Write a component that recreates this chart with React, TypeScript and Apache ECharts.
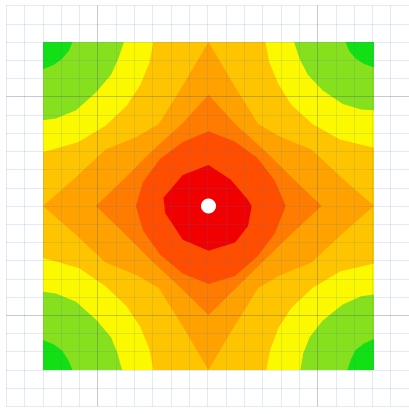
import React, { useEffect, useRef } from "react";
import * as echarts from "echarts";

// Contour band colours, from lowest (corners) to highest (centre)
const levelColors = [
  "#12df14", // 0 bright green
  "#86e01e", // 1 green
  "#fcf800", // 2 yellow
  "#ffc400", // 3 amber
  "#ffa200", // 4 orange
  "#ff7c00", // 5 dark orange
  "#ff4e00", // 6 red-orange
  "#f00000", // 7 red
];

// Contour band outlines in plot units (-9..9 on both axes)
const fullSquare = [[-9, -9], [9, -9], [9, 9], [-9, 9]];

const yellowTL = [[-9, 9], [-3, 9], [-3.2, 7.9], [-3.7, 6.65], [-4.45, 5.5], [-5.6, 4.4], [-7.1, 3.5], [-9, 2.95]];
const yellowTR = [[9, 9], [3.1, 9], [3.3, 7.9], [3.8, 6.7], [4.5, 5.55], [5.65, 4.5], [7.15, 3.65], [9, 3.2]];
const yellowBR = [[9, -9], [9, -3.15], [7.15, -3.6], [5.65, -4.5], [4.5, -5.6], [3.8, -6.7], [3.35, -7.9], [3.15, -9]];
const yellowBL = [[-9, -9], [-3, -9], [-3.2, -7.9], [-3.7, -6.65], [-4.45, -5.5], [-5.6, -4.4], [-7.05, -3.4], [-9, -2.85]];

const greenTL = [[-9, 9], [-4.6, 9], [-4.9, 8.1], [-5.3, 7.2], [-6.1, 6.25], [-7.2, 5.25], [-8.3, 4.8], [-9, 4.7]];
const greenTR = [[9, 9], [4.65, 9], [4.95, 8.1], [5.4, 7.2], [6.2, 6.35], [7.3, 5.6], [8.3, 5.3], [9, 5.25]];
const greenBR = [[9, -9], [9, -4.85], [8.3, -4.95], [7.3, -5.4], [6.2, -6.3], [5.5, -7.2], [5.15, -8.1], [5.0, -9]];
const greenBL = [[-9, -9], [-9, -4.7], [-8.3, -4.8], [-7.2, -5.25], [-6.1, -6.25], [-5.3, -7.2], [-4.95, -8.1], [-4.7, -9]];

const brightTL = [[-9, 9], [-7.4, 9], [-7.6, 8.5], [-7.95, 8.1], [-8.4, 7.75], [-9, 7.5]];
const brightTR = [[9, 9], [7.45, 9], [7.65, 8.5], [8.0, 8.1], [8.45, 7.8], [9, 7.6]];
const brightBR = [[9, -9], [9, -7.3], [8.45, -7.55], [8.0, -7.9], [7.75, -8.4], [7.55, -9]];
const brightBL = [[-9, -9], [-9, -7.35], [-8.4, -7.6], [-7.95, -7.95], [-7.6, -8.5], [-7.4, -9]];

const orangeStar = [
  [0, 9], [1.35, 6.7], [2.7, 4.5], [3.9, 3.8], [5.6, 3.1], [7.3, 1.5],
  [9, 0], [7.3, -1.5], [5.6, -3.1], [3.9, -3.8], [2.7, -4.5], [1.35, -6.7],
  [0, -9], [-1.35, -6.7], [-2.7, -4.5], [-3.9, -3.8], [-5.6, -3.1], [-7.3, -1.5],
  [-9, 0], [-7.3, 1.5], [-5.6, 3.1], [-3.9, 3.8], [-2.7, 4.5], [-1.35, 6.7],
];

const darkOrangeDiamond = [
  [0, 6.1], [1.45, 4.5], [3.05, 3.05], [4.55, 1.55], [6.15, 0], [4.55, -1.5],
  [3.0, -3.0], [1.5, -4.5], [0, -6.0], [-1.5, -4.5], [-3.05, -3.05], [-4.55, -1.54],
  [-6.12, 0], [-4.54, 1.54], [-3.05, 3.05], [-1.45, 4.5],
];

const redOrangeShape = [
  [0, 4.1], [1.4, 3.55], [2.65, 2.65], [3.6, 1.4], [4.2, 0], [3.62, -1.48],
  [2.69, -2.74], [1.44, -3.84], [0, -4.28], [-1.4, -3.7], [-2.65, -2.65], [-3.56, -1.35],
  [-3.95, 0], [-3.56, 1.32], [-2.64, 2.58], [-1.39, 3.51],
];

const redShape = [
  [0, 2.25], [1.2, 1.45], [2.1, 0.4], [2.35, 0], [2.15, -1.1], [1.45, -2.0],
  [0, -2.45], [-1.4, -1.85], [-2.35, -0.4], [-2.45, 0.45], [-1.4, 1.7],
];

const peakPoint = [[0, 0]];

const bands = [
  { level: 3, points: fullSquare },
  { level: 2, points: yellowTL },
  { level: 2, points: yellowTR },
  { level: 2, points: yellowBR },
  { level: 2, points: yellowBL },
  { level: 1, points: greenTL },
  { level: 1, points: greenTR },
  { level: 1, points: greenBR },
  { level: 1, points: greenBL },
  { level: 0, points: brightTL },
  { level: 0, points: brightTR },
  { level: 0, points: brightBR },
  { level: 0, points: brightBL },
  { level: 4, points: orangeStar },
  { level: 5, points: darkOrangeDiamond },
  { level: 6, points: redOrangeShape },
  { level: 7, points: redShape },
];

// graph-paper background: one colour per line, repeating every 12 lines (index 5 is the darker line)
const minorLine = "rgba(60,120,190,0.15)";
const majorLine = "rgba(60,80,110,0.3)";
const gridLineColors = Array.from({ length: 12 }, (_, i) => (i === 5 ? majorLine : minorLine));

export default function App() {
  const ref = useRef<HTMLDivElement>(null);
  useEffect(() => {
    document.body.style.margin = "0";
    const chart = echarts.init(ref.current!, null, { renderer: "svg" });
    chart.setOption({
      animation: false,
      backgroundColor: "#ffffff",
      grid: [
        { left: 43, top: 42, width: 331, height: 328 },
        { left: 6.2, top: 5.6, width: 404.6, height: 400.8 },
      ],
      xAxis: [
        { gridIndex: 0, type: "value", min: -9, max: 9, show: false },
        {
          gridIndex: 1, type: "value", min: -2, max: 20, interval: 1, z: 5,
          axisLine: { show: false }, axisTick: { show: false }, axisLabel: { show: false },
          splitLine: { show: true, lineStyle: { color: gridLineColors, width: 1 } },
        },
      ],
      yAxis: [
        { gridIndex: 0, type: "value", min: -9, max: 9, show: false },
        {
          gridIndex: 1, type: "value", min: -2, max: 20, interval: 1, inverse: true, z: 5,
          axisLine: { show: false }, axisTick: { show: false }, axisLabel: { show: false },
          splitLine: { show: true, lineStyle: { color: gridLineColors, width: 1 } },
        },
      ],
      series: [
        {
          type: "custom",
          xAxisIndex: 0,
          yAxisIndex: 0,
          clip: true,
          encode: { x: 0, y: 1 },
          data: bands.map((b, i) => [0, 0, i]),
          renderItem: (params: any, api: any) => {
            const band = bands[params.dataIndex];
            const pts = band.points.map((p) => api.coord(p));
            return {
              type: "polygon",
              shape: { points: pts },
              style: { fill: levelColors[band.level], stroke: null },
            };
          },
          z: 2,
        },
        {
          type: "scatter",
          xAxisIndex: 0,
          yAxisIndex: 0,
          data: peakPoint,
          symbolSize: 15,
          itemStyle: { color: "#ffffff", opacity: 1 },
          z: 10,
        },
      ],
    });
    return () => chart.dispose();
  }, []);
  return <div ref={ref} style={{ width: 409, height: 414, position: "absolute", left: 0, top: 0 }} />;
}
